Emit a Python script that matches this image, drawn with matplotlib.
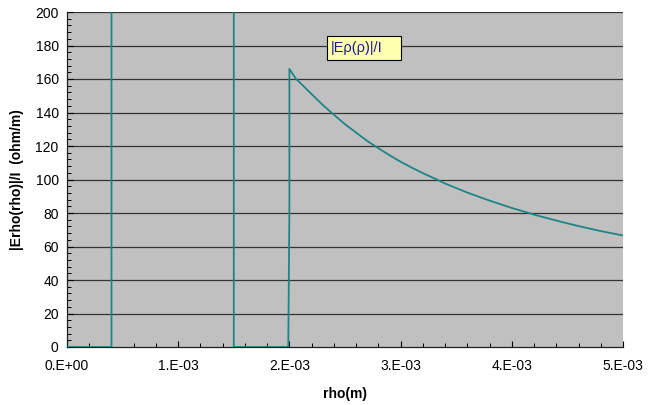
import matplotlib
matplotlib.use("Agg")
import matplotlib.pyplot as plt
from matplotlib.ticker import MultipleLocator
from matplotlib.patches import Rectangle

plt.rcParams['font.family'] = ['Liberation Sans', 'DejaVu Sans']

# data (rho in metres, |E|/I in ohm/m)
rho = [0.0, 0.0004, 0.0004, 0.0008, 0.0012, 0.0015, 0.0015, 0.00199,
       0.002, 0.002, 0.00203, 0.00206, 0.0021, 0.0022, 0.0023, 0.00238,
       0.0025, 0.0026, 0.0027, 0.002785, 0.0029, 0.003, 0.0031, 0.0032,
       0.003325, 0.0034, 0.0036, 0.0038, 0.004, 0.004164, 0.0042, 0.0044,
       0.0045, 0.0046, 0.0048, 0.005]
e_val = [0.0, 0.0, 830.0, 415.0, 277.0, 221.0, 0.0, 0.0,
         84.0, 166.0, 163.0, 160.0, 157.5, 151.0, 144.5, 139.8,
         133.0, 128.0, 123.0, 119.3, 114.5, 110.6, 107.1, 103.8,
         100.0, 97.6, 92.2, 87.4, 83.0, 79.8, 79.0, 75.5,
         73.8, 72.2, 69.2, 66.6]

x_ticks = [0.0, 0.001, 0.002, 0.003, 0.004, 0.005]
x_labels = ["0.E+00", "1.E-03", "2.E-03", "3.E-03", "4.E-03", "5.E-03"]
y_ticks = [0, 20, 40, 60, 80, 100, 120, 140, 160, 180, 200]

fig = plt.figure(figsize=(6.48, 4.05), dpi=100)
ax = fig.add_axes([67/648, 1-347/405, (623-67)/648, (347-12)/405])
ax.set_facecolor('#C0C0C0')

for yv in y_ticks[1:]:
    ax.axhline(yv, color='#333333', lw=0.9, zorder=1)

ax.plot(rho, e_val, color='#1E8585', lw=1.3, zorder=3, clip_on=True)

ax.set_xlim(0, 0.005)
ax.set_ylim(0, 200)
ax.set_xticks(x_ticks)
ax.set_xticklabels(x_labels)
ax.set_yticks(y_ticks)
ax.xaxis.set_minor_locator(MultipleLocator(0.0002))
ax.yaxis.set_minor_locator(MultipleLocator(4))
ax.tick_params(axis='both', which='both', direction='in', labelsize=10,
               colors='black', pad=6)
ax.tick_params(which='major', length=4, width=0.8)
ax.tick_params(which='minor', length=3, width=0.7)
ax.tick_params(axis='x', pad=9)

for s in ['top', 'right']:
    ax.spines[s].set_visible(False)
for s in ['left', 'bottom']:
    ax.spines[s].set_color('#202020')
    ax.spines[s].set_linewidth(0.9)

ax.set_xlabel('rho(m)', fontsize=10, fontweight='bold', labelpad=10)
ax.set_ylabel('|Erho(rho)|/I  (ohm/m)', fontsize=10, fontweight='bold', labelpad=8)

ax.add_patch(Rectangle((0.002338, 171.6), 0.003004 - 0.002338, 185.4 - 171.6,
                       facecolor='#FFFFB0', edgecolor='black', linewidth=0.8,
                       zorder=4))
ax.text(0.00237, 178.7, '|Eρ(ρ)|/I', fontsize=10.5, color='#1A1A8C',
        ha='left', va='center', zorder=5)

fig.savefig('out.png', dpi=100)
